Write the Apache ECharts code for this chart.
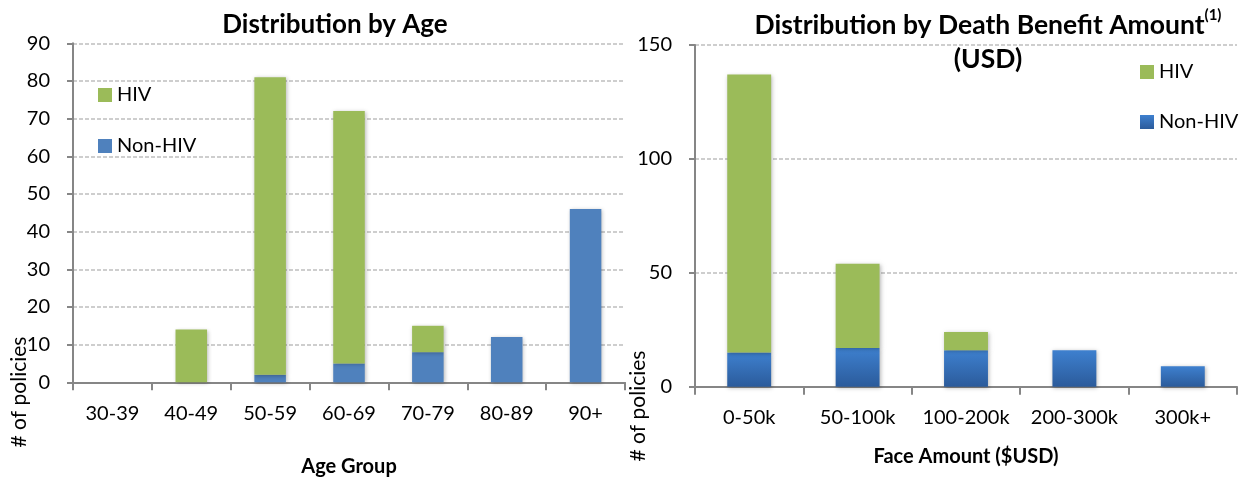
<!DOCTYPE html>
<html><head><meta charset="utf-8">
<script src="https://cdn.jsdelivr.net/npm/echarts@6/dist/echarts.min.js"></script>
<style>html,body{margin:0;padding:0;background:#fff}#c{width:1260px;height:478px}</style>
</head><body><div id="c"></div>
<script>
const ageCategories = ['30-39','40-49','50-59','60-69','70-79','80-89','90+'];
const ageNonHIV = [0, 0, 2, 5, 8, 12, 46];
const ageHIV = [0, 14, 79, 67, 7, 0, 0];
const faceCategories = ['0-50k','50-100k','100-200k','200-300k','300k+'];
const faceNonHIV = [15, 17, 16, 16, 9];
const faceHIV = [122, 37, 8, 0, 0];

const FONT = 'Lato';
const GREEN = '#9BBB59';
const BLUE = '#4F81BD';
const blueGrad = new echarts.graphic.LinearGradient(0,0,0,1,[{offset:0,color:'#3E80CF'},{offset:1,color:'#2B5B9B'}]);
const shadow = {shadowBlur:4, shadowColor:'rgba(0,0,0,0.28)', shadowOffsetX:1, shadowOffsetY:1};

const axisLineStyle = {show:true, lineStyle:{color:'#868686', width:2}};
const splitLine = {show:true, lineStyle:{color:'#BFBFBF', type:[4,2], width:1.5}};
const tickLabel = {color:'#000', fontFamily:FONT, fontSize:20};

const chart = echarts.init(document.getElementById('c'));
chart.setOption({
  animation:false,
  textStyle:{fontFamily:FONT},
  title:[
    {text:'Distribution by Age', left:330, top:7, textAlign:'center',
     textStyle:{fontFamily:FONT, fontSize:26, fontWeight:'bold', color:'#000'}},
    {text:'Distribution by Death Benefit Amount{sup|(1)}\n(USD)', left:983, top:3, textAlign:'center',
     textStyle:{fontFamily:FONT, fontSize:26.5, fontWeight:'bold', color:'#000', lineHeight:34,
       rich:{sup:{fontFamily:FONT, fontSize:15, fontWeight:'bold', color:'#000', verticalAlign:'top', lineHeight:34, padding:[0,0,14,0]}}}}
  ],
  legend:[
    {orient:'vertical', left:98, top:85, padding:0, itemWidth:14, itemHeight:14, itemGap:31,
     icon:'rect', textStyle:{fontFamily:FONT, fontSize:20, color:'#000'},
     data:[{name:'HIV', itemStyle:{color:GREEN}},{name:'Non-HIV', itemStyle:{color:BLUE}}], selectedMode:false},
    {orient:'vertical', left:1140, top:62, padding:0, itemWidth:14, itemHeight:14, itemGap:30,
     icon:'rect', textStyle:{fontFamily:FONT, fontSize:20, color:'#000'},
     data:[{name:'HIV', itemStyle:{color:GREEN}},{name:'Non-HIV', itemStyle:{color:blueGrad}}], selectedMode:false}
  ],
  grid:[
    {left:73, top:43.3, width:552, height:339, containLabel:false, outerBoundsMode:'none'},
    {left:695, top:45, width:542, height:341.7, containLabel:false, outerBoundsMode:'none'}
  ],
  xAxis:[
    {type:'category', gridIndex:0, data:ageCategories, axisLine:axisLineStyle,
     axisTick:{show:true, length:8, lineStyle:{color:'#868686', width:2}},
     axisLabel:Object.assign({margin:21, interval:0}, tickLabel),
     name:'Age Group', nameLocation:'middle', nameGap:74,
     nameTextStyle:{fontFamily:FONT, fontSize:20, fontWeight:'bold', color:'#000'}},
    {type:'category', gridIndex:1, data:faceCategories, axisLine:axisLineStyle,
     axisTick:{show:true, length:8, lineStyle:{color:'#868686', width:2}},
     axisLabel:Object.assign({margin:21, interval:0}, tickLabel),
     name:'Face Amount ($USD)', nameLocation:'middle', nameGap:60,
     nameTextStyle:{fontFamily:FONT, fontSize:20, fontWeight:'bold', color:'#000'}}
  ],
  yAxis:[
    {type:'value', gridIndex:0, min:0, max:90, interval:10, axisLine:axisLineStyle,
     axisTick:{show:true, length:6, lineStyle:{color:'#868686', width:2}},
     axisLabel:Object.assign({margin:23}, tickLabel), splitLine:splitLine},
    {type:'value', gridIndex:1, min:0, max:150, interval:50, axisLine:axisLineStyle,
     axisTick:{show:true, length:6, lineStyle:{color:'#868686', width:2}},
     axisLabel:Object.assign({margin:23}, tickLabel), splitLine:splitLine}
  ],
  graphic:[
    {type:'text', x:19, y:392, rotation:Math.PI/2,
     style:{text:'# of policies', fontFamily:FONT, fontSize:21, fill:'#000', align:'center', verticalAlign:'middle'}},
    {type:'text', x:638, y:406, rotation:Math.PI/2,
     style:{text:'# of policies', fontFamily:FONT, fontSize:21, fill:'#000', align:'center', verticalAlign:'middle'}}
  ],
  series:[
    {name:'Non-HIV', type:'bar', xAxisIndex:0, yAxisIndex:0, stack:'a', data:ageNonHIV, barWidth:'40%',
     itemStyle:Object.assign({color:BLUE}, shadow)},
    {name:'HIV', type:'bar', xAxisIndex:0, yAxisIndex:0, stack:'a', data:ageHIV, barWidth:'40%',
     itemStyle:Object.assign({color:GREEN}, shadow)},
    {name:'Non-HIV', type:'bar', xAxisIndex:1, yAxisIndex:1, stack:'b', data:faceNonHIV, barWidth:'40.5%',
     itemStyle:Object.assign({color:blueGrad}, shadow)},
    {name:'HIV', type:'bar', xAxisIndex:1, yAxisIndex:1, stack:'b', data:faceHIV, barWidth:'40.5%',
     itemStyle:Object.assign({color:GREEN}, shadow)}
  ]
});
</script></body></html>
